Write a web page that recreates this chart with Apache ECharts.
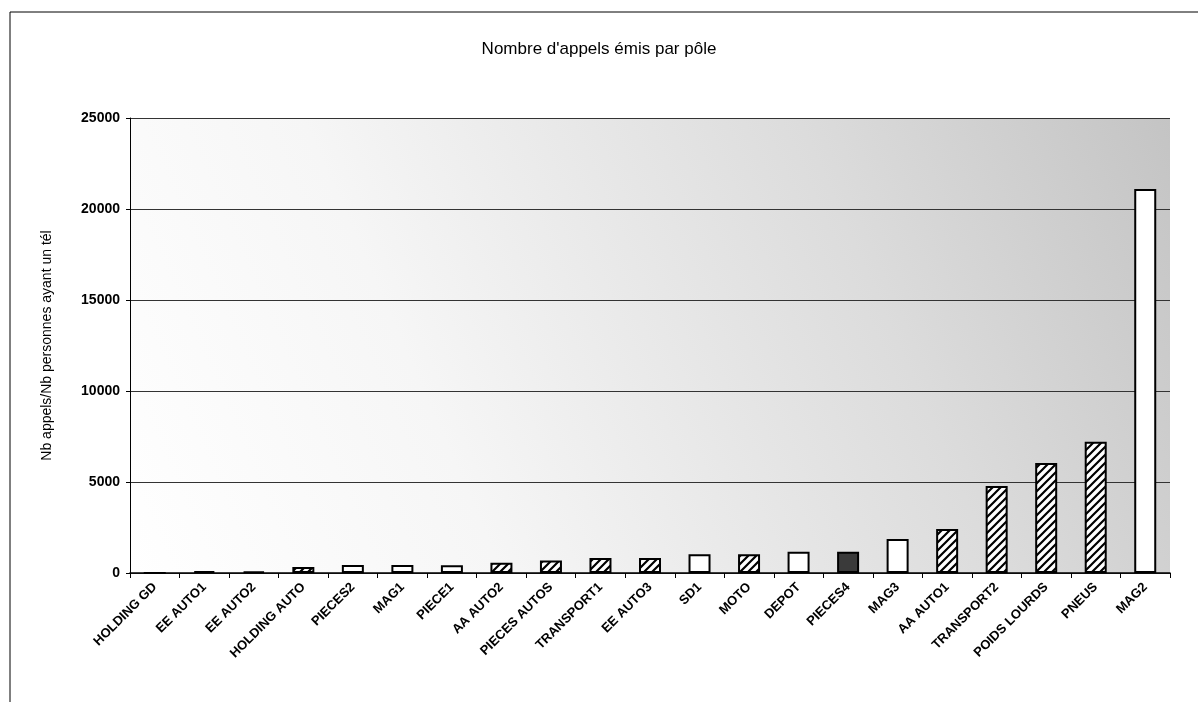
<!DOCTYPE html>
<html lang="fr">
<head>
    <meta charset="UTF-8">
    <title>Nombre d'appels émis par pôle</title>
    <script src="https://cdn.jsdelivr.net/npm/echarts@6/dist/echarts.min.js"></script>
    <style>
        html, body { margin: 0; padding: 0; background: #fff; }
        #chart { width: 1198px; height: 702px; }
    </style>
</head>
<body>
    <div id="chart"></div>
    <script>
        // données
        const poles = ['HOLDING GD', 'EE AUTO1', 'EE AUTO2', 'HOLDING AUTO', 'PIECES2', 'MAG1', 'PIECE1',
            'AA AUTO2', 'PIECES AUTOS', 'TRANSPORT1', 'EE AUTO3', 'SD1', 'MOTO', 'DEPOT', 'PIECES4',
            'MAG3', 'AA AUTO1', 'TRANSPORT2', 'POIDS LOURDS', 'PNEUS', 'MAG2'];
        const appels = [0, 100, 80, 330, 440, 440, 430, 570, 680, 820, 820, 1030, 1030, 1170, 1170,
            1870, 2420, 4780, 6040, 7210, 21100];
        // type de remplissage de chaque barre : h = hachuré, w = blanc, d = foncé
        const remplissage = ['w', 'h', 'h', 'h', 'w', 'w', 'w', 'h', 'h', 'h', 'h', 'w', 'h', 'w', 'd',
            'w', 'h', 'h', 'h', 'h', 'w'];
        const yTicks = [0, 5000, 10000, 15000, 20000, 25000];

        // motif hachuré
        const hatch = document.createElement('canvas');
        hatch.width = 8; hatch.height = 8;
        const hc = hatch.getContext('2d');
        hc.fillStyle = '#fff';
        hc.fillRect(0, 0, 8, 8);
        hc.strokeStyle = '#000';
        hc.lineWidth = 2.2;
        hc.beginPath();
        hc.moveTo(-2, 10); hc.lineTo(10, -2);
        hc.moveTo(-2, 2); hc.lineTo(2, -2);
        hc.moveTo(6, 10); hc.lineTo(10, 6);
        hc.stroke();

        const fills = {
            w: '#ffffff',
            h: { image: hatch, repeat: 'repeat' },
            d: '#3a3a3a'
        };

        const chart = echarts.init(document.getElementById('chart'));

        const option = {
            animation: false,
            backgroundColor: '#fff',
            title: {
                text: "Nombre d'appels émis par pôle",
                left: 'center',
                top: 36,
                textStyle: { fontFamily: 'Liberation Sans, Arial', fontSize: 17, fontWeight: 'normal', color: '#000' }
            },
            graphic: [
                { type: 'line', shape: { x1: 10, y1: 12, x2: 1198, y2: 12 }, style: { stroke: '#000', lineWidth: 1 } },
                { type: 'line', shape: { x1: 10, y1: 12, x2: 10, y2: 702 }, style: { stroke: '#000', lineWidth: 1 } }
            ],
            grid: {
                left: 130, right: 28, top: 118, bottom: 129,
                show: true,
                borderWidth: 0,
                backgroundColor: {
                    type: 'linear', x: 0, y: 1, x2: 1, y2: 0,
                    colorStops: [
                        { offset: 0, color: '#ffffff' },
                        { offset: 0.3, color: '#f6f6f6' },
                        { offset: 0.7, color: '#dcdcdc' },
                        { offset: 1, color: '#c4c4c4' }
                    ]
                }
            },
            xAxis: {
                type: 'category',
                data: poles,
                axisLine: { lineStyle: { color: '#000', width: 1.5 } },
                axisTick: { show: true, alignWithLabel: false, length: 5, lineStyle: { color: '#000' } },
                axisLabel: {
                    rotate: 45,
                    interval: 0,
                    margin: 12,
                    fontFamily: 'Liberation Sans, Arial',
                    fontSize: 13,
                    fontWeight: 'bold',
                    color: '#000'
                }
            },
            yAxis: {
                type: 'value',
                min: 0, max: 25000, interval: 5000,
                name: 'Nb appels/Nb personnes ayant un tél',
                nameLocation: 'middle',
                nameGap: 76,
                nameTextStyle: { fontFamily: 'Liberation Sans, Arial', fontSize: 14, color: '#000' },
                axisLine: { show: true, lineStyle: { color: '#000', width: 1 } },
                axisTick: { show: true, inside: false, length: 4, lineStyle: { color: '#000' } },
                axisLabel: {
                    formatter: v => yTicks.includes(v) ? String(v) : '',
                    fontFamily: 'Liberation Sans, Arial',
                    fontSize: 14,
                    fontWeight: 'bold',
                    color: '#000',
                    margin: 10
                },
                splitLine: { show: true, lineStyle: { color: '#333', width: 1 } }
            },
            series: [{
                type: 'bar',
                barWidth: 22,
                data: appels.map((v, i) => ({
                    value: v,
                    itemStyle: { color: fills[remplissage[i]] }
                })),
                itemStyle: { borderColor: '#000', borderWidth: 2 }
            }]
        };

        chart.setOption(option);
    </script>
</body>
</html>
